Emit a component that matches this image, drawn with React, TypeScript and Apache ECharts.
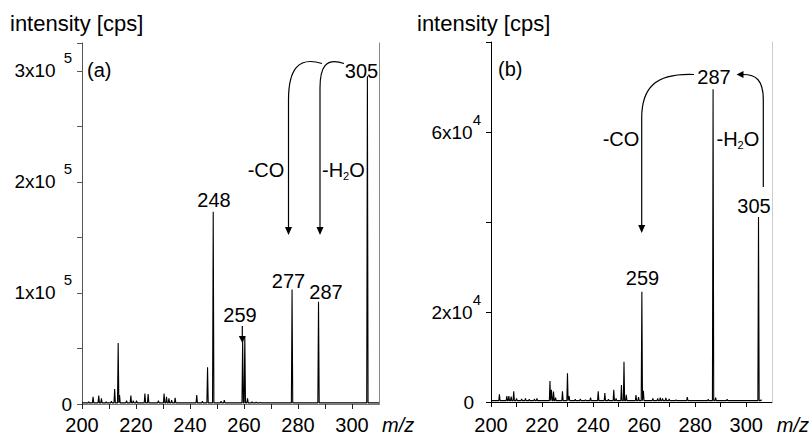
import React, { useEffect, useRef } from "react";
import * as echarts from "echarts";

// ---------- data ----------
const xTickLabels = [200, 220, 240, 260, 280, 300];

// panel (a)
const yValuesA = [0, 100000, 200000, 300000];
const yMantissaA = ["0", "1x10", "2x10", "3x10"];
const yExpA = ["", "5", "5", "5"];
const peaksMzA = [
  202.5, 204.1, 206.2, 207.2, 209.0, 210.9, 212.1, 213.4, 213.9, 216.5, 218.1, 219.0, 220.2,
  223.3, 224.5, 228.3, 230.4, 231.3, 232.2, 233.2, 234.5, 242.5, 244.6, 246.5, 248.6, 251.5,
  252.7, 259.5, 260.3, 261.3, 263.0, 264.5, 266.0, 277.8, 287.6, 305.7,
];
const peaksIntA = [
  2000, 6500, 7500, 5000, 2000, 2500, 13500, 55000, 8000, 3000, 7500, 3000, 3000,
  9500, 9000, 3000, 9500, 6500, 5000, 3500, 5500, 8000, 2500, 33000, 173000, 2500,
  3500, 57000, 60000, 5000, 2000, 1800, 1500, 103000, 92000, 295000,
];
const baselineA = 1000;

// panel (b)
const yValuesB = [0, 20000, 60000];
const yMantissaB = ["0", "2x10", "6x10"];
const yExpB = ["", "4", "4"];
const peaksMzB = [
  203.3, 206.2, 207.0, 207.9, 208.9, 210.0, 212.0, 213.5, 215.0, 217.0, 218.0, 223.1, 223.7,
  224.5, 225.3, 228.0, 229.96, 230.6, 233.0, 235.0, 237.0, 239.0, 242.0, 244.6, 246.0, 248.1,
  249.0, 251.1, 252.1, 253.0, 256.8, 257.8, 259.1, 259.7, 263.4, 265.3, 266.3, 267.2, 268.5,
  269.8, 272.5, 276.9, 285.1, 287.0, 288.0, 292.5, 304.8, 305.8,
];
const peaksIntB = [
  1700, 1300, 1300, 1200, 2400, 800, 700, 800, 600, 700, 800, 4660, 2700,
  2300, 1000, 2400, 6400, 1300, 600, 700, 500, 1000, 2400, 2000, 600, 2700,
  800, 3800, 8950, 1600, 1550, 1100, 24500, 2500, 800, 800, 1000, 800, 900,
  700, 500, 1100, 600, 69500, 1000, 600, 41100, 500,
];
const baselineB = 300;

const FONT = '"Liberation Sans", Arial, Helvetica, sans-serif';

function buildTrace(mz: number[], inten: number[], base: number, start: number, end: number) {
  const pts: number[][] = [[start, base]];
  const hw = 0.25;
  for (let i = 0; i < mz.length; i++) {
    pts.push([mz[i] - hw, base], [mz[i], inten[i]], [mz[i] + hw, base]);
  }
  pts.push([end, base]);
  return pts;
}

function yFormatter(values: number[], mant: string[], exp: string[], zeroTag: string) {
  return (v: number) => {
    const i = values.indexOf(v);
    if (i < 0) return "";
    if (!exp[i]) return `{${zeroTag}|${mant[i]}}`;
    return `{m|${mant[i]}}{s|${exp[i]}}`;
  };
}

export default function App() {
  const ref = useRef<HTMLDivElement>(null);
  useEffect(() => {
    if (!ref.current) return;
    const chart = echarts.init(ref.current, undefined, { renderer: "svg" });

    const xLabelFmt = (v: number) => (xTickLabels.indexOf(v) >= 0 ? String(v) : "");
    const txt = (x: number, y: number, text: string, align = "center", extra: any = {}) => ({
      type: "text",
      x,
      y,
      silent: true,
      style: {
        text,
        fontSize: 20,
        fontFamily: FONT,
        fill: "#000",
        align,
        verticalAlign: "middle",
        ...extra,
      },
    });
    const h2oRich = {
      m: { fontSize: 20, fontFamily: FONT, fill: "#000", lineHeight: 22, verticalAlign: "middle" },
      s: { fontSize: 11, fontFamily: FONT, fill: "#000", lineHeight: 11, padding: [12, 0, 0, 0], verticalAlign: "middle" },
    };
    const line = (pts: number[][]) => ({
      type: "polyline",
      silent: true,
      shape: { points: pts },
      style: { stroke: "#000", lineWidth: 1.2, fill: "none" },
    });
    const bez = (x1: number, y1: number, cx1: number, cy1: number, cx2: number, cy2: number, x2: number, y2: number) => ({
      type: "bezierCurve",
      silent: true,
      shape: { x1, y1, cpx1: cx1, cpy1: cy1, cpx2: cx2, cpy2: cy2, x2, y2 },
      style: { stroke: "#000", lineWidth: 1.2, fill: "none" },
    });
    const head = (pts: number[][]) => ({
      type: "polygon",
      silent: true,
      shape: { points: pts },
      style: { fill: "#000", stroke: "none" },
    });

    const richY = (gap: number, zeroPad: number) => ({
      m: { fontSize: 19, fontFamily: FONT, color: "#000", lineHeight: 20, verticalAlign: "middle" },
      s: { fontSize: 15, fontFamily: FONT, color: "#000", lineHeight: 15, padding: [0, 0, 26, gap], verticalAlign: "middle" },
      z: { fontSize: 19, fontFamily: FONT, color: "#000", lineHeight: 20, padding: [0, zeroPad, 0, 0], verticalAlign: "middle" },
    });

    const option: any = {
      animation: false,
      backgroundColor: "#fff",
      grid: [
        { left: 82, right: 433, top: 43, bottom: 34, show: false },
        { left: 491, right: 39, top: 42, bottom: 36, show: false },
      ],
      xAxis: [
        {
          type: "value", gridIndex: 0, min: 200, max: 310, interval: 10,
          axisLine: { lineStyle: { color: "#222", width: 1 } },
          axisTick: { show: true, length: 5, inside: false, lineStyle: { color: "#222" } },
          axisLabel: { formatter: xLabelFmt, fontSize: 20, fontFamily: FONT, color: "#000", margin: 11, showMaxLabel: false },
          splitLine: { show: false },
          name: "m/z", nameLocation: "end", nameGap: 3,
          nameTextStyle: { fontStyle: "italic", fontSize: 20, fontFamily: FONT, color: "#000", verticalAlign: "top", align: "left", padding: [11, 0, 0, 0] },
        },
        {
          type: "value", gridIndex: 0, min: 200, max: 310, position: "top",
          axisLine: { lineStyle: { color: "#777", width: 1 } },
          axisTick: { show: false }, axisLabel: { show: false }, splitLine: { show: false },
        },
        {
          type: "value", gridIndex: 1, min: 200, max: 310, interval: 10,
          axisLine: { lineStyle: { color: "#000", width: 1 } },
          axisTick: { show: true, length: 5, inside: false, lineStyle: { color: "#000" } },
          axisLabel: { formatter: xLabelFmt, fontSize: 20, fontFamily: FONT, color: "#000", margin: 13, showMaxLabel: false },
          splitLine: { show: false },
          name: "m/z", nameLocation: "end", nameGap: 5,
          nameTextStyle: { fontStyle: "italic", fontSize: 20, fontFamily: FONT, color: "#000", verticalAlign: "top", align: "left", padding: [13, 0, 0, 0] },
        },
        {
          type: "value", gridIndex: 1, min: 200, max: 310, position: "top",
          axisLine: { lineStyle: { color: "#000", width: 1 } },
          axisTick: { show: false }, axisLabel: { show: false }, splitLine: { show: false },
        },
      ],
      yAxis: [
        {
          type: "value", gridIndex: 0, min: 0, max: 325000, interval: 50000,
          axisLine: { show: true, lineStyle: { color: "#555", width: 1 } },
          axisTick: { show: true, length: 5, inside: false, lineStyle: { color: "#555" } },
          axisLabel: { formatter: yFormatter(yValuesA, yMantissaA, yExpA, "z"), margin: 10, rich: richY(8, 0) },
          splitLine: { show: false },
        },
        {
          type: "value", gridIndex: 0, min: 0, max: 325000, position: "right",
          axisLine: { show: true, lineStyle: { color: "#888", width: 1 } },
          axisTick: { show: false }, axisLabel: { show: false }, splitLine: { show: false },
        },
        {
          type: "value", gridIndex: 1, min: 0, max: 80000, interval: 20000,
          axisLine: { show: true, lineStyle: { color: "#000", width: 1 } },
          axisTick: { show: true, length: 5, inside: false, lineStyle: { color: "#000" } },
          axisLabel: { formatter: yFormatter(yValuesB, yMantissaB, yExpB, "z"), margin: 10, rich: richY(0, 7) },
          splitLine: { show: false },
        },
        {
          type: "value", gridIndex: 1, min: 0, max: 80000, position: "right",
          axisLine: { show: true, lineStyle: { color: "#ccc", width: 1 } },
          axisTick: { show: false }, axisLabel: { show: false }, splitLine: { show: false },
        },
      ],
      series: [
        {
          type: "line", xAxisIndex: 0, yAxisIndex: 0, showSymbol: false, symbol: "none", silent: true,
          lineStyle: { color: "#000", width: 1.1 },
          data: buildTrace(peaksMzA, peaksIntA, baselineA, 200, 310),
        },
        {
          type: "line", xAxisIndex: 2, yAxisIndex: 2, showSymbol: false, symbol: "none", silent: true,
          lineStyle: { color: "#000", width: 1.1 },
          data: buildTrace(peaksMzB, peaksIntB, baselineB, 200, 306.3),
        },
      ],
      graphic: [
        // titles
        txt(10, 23, "intensity [cps]", "left", { fontSize: 22 }),
        txt(417, 23, "intensity [cps]", "left", { fontSize: 22 }),
        // panel (a)
        txt(87, 70, "(a)", "left"),
        txt(361.5, 70.5, "305"),
        txt(214, 200, "248"),
        txt(240, 315, "259"),
        txt(288.5, 281, "277"),
        txt(326, 292, "287"),
        txt(266, 170, "-CO"),
        {
          type: "text", x: 322, y: 170, silent: true,
          style: { text: "{m|-H}{s|2}{m|O}", rich: h2oRich, align: "left", verticalAlign: "middle" },
        },
        line([[242.3, 326], [242.3, 337]]),
        head([[238.8, 336], [245.8, 336], [242.3, 343]]),
        bez(322, 63.5, 298, 56, 288.5, 70, 288.5, 100),
        line([[288.5, 100], [288.5, 228]]),
        head([[285, 227], [292, 227], [288.5, 235]]),
        bez(344, 63.5, 325, 57, 320, 68, 320, 88),
        line([[320, 88], [320, 228]]),
        head([[316.5, 227], [323.5, 227], [320, 235]]),
        // panel (b)
        txt(498, 69, "(b)", "left"),
        txt(714, 76.5, "287"),
        txt(754, 205.5, "305"),
        txt(642.5, 277.5, "259"),
        txt(621, 139, "-CO"),
        {
          type: "text", x: 716.5, y: 139, silent: true,
          style: { text: "{m|-H}{s|2}{m|O}", rich: h2oRich, align: "left", verticalAlign: "middle" },
        },
        bez(694, 74.5, 655, 73, 641.7, 88, 641.7, 118),
        line([[641.7, 118], [641.7, 226]]),
        head([[638.2, 225], [645.2, 225], [641.7, 233]]),
        line([[763.3, 187], [763.3, 100]]),
        bez(763.3, 100, 763.3, 80, 756, 74.5, 743, 74.5),
        head([[743.5, 71], [743.5, 78], [736.5, 74.5]]),
      ],
    };
    chart.setOption(option);
    return () => chart.dispose();
  }, []);
  return (
    <div
      ref={ref}
      style={{ position: "fixed", left: 0, top: 0, width: 812, height: 438, background: "#fff" }}
    />
  );
}
